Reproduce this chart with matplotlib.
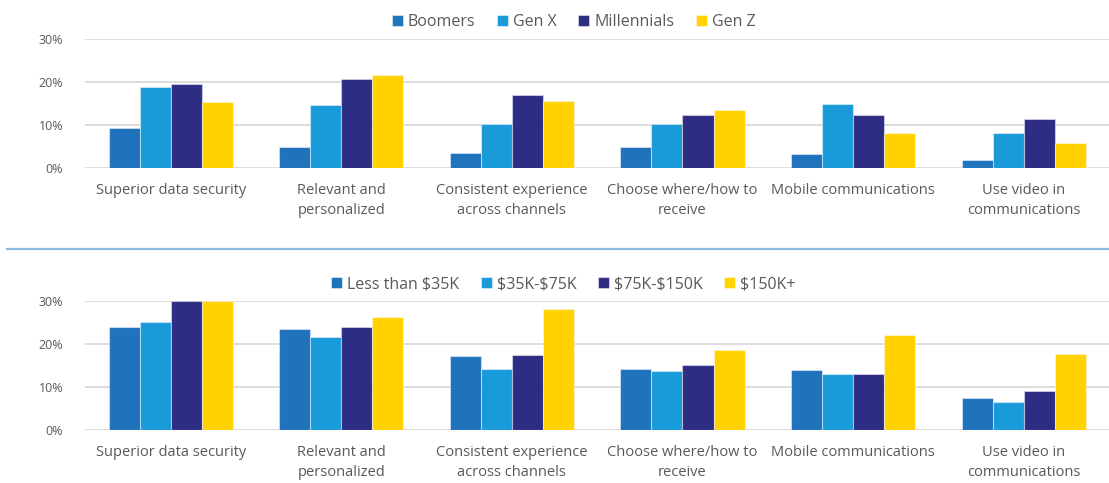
import matplotlib.pyplot as plt
import numpy as np

categories = ["Superior data security", "Relevant and\npersonalized",
              "Consistent experience\nacross channels", "Choose where/how to\nreceive",
              "Mobile communications", "Use video in\ncommunications"]

gen_labels = ["Boomers", "Gen X", "Millennials", "Gen Z"]
boomers = [9.3, 5.0, 3.6, 4.9, 3.2, 1.9]
gen_x = [18.8, 14.6, 10.3, 10.2, 14.8, 8.1]
millennials = [19.5, 20.7, 17.0, 12.3, 12.3, 11.4]
gen_z = [15.3, 21.6, 15.7, 13.6, 8.1, 5.9]

income_labels = ["Less than $35K", "$35K-$75K", "$75K-$150K", "$150K+"]
less_35k = [23.9, 23.5, 17.3, 14.2, 13.9, 7.3]
k35_75 = [25.2, 21.7, 14.1, 13.6, 12.9, 6.5]
k75_150 = [30.0, 23.9, 17.4, 15.1, 13.1, 9.0]
k150_plus = [30.0, 26.3, 28.1, 18.5, 22.0, 17.7]

colors = ["#1F72BC", "#1A9BD9", "#2E2D84", "#FFD200"]
text_color = "#595959"

plt.rcParams['font.family'] = ['Open Sans', 'DejaVu Sans']
plt.rcParams['text.parse_math'] = False


def draw_panel(ax, series, labels, legend_x, legend_y):
    x = np.arange(len(categories))
    w = 0.182
    for i, (vals, lab) in enumerate(zip(series, labels)):
        ax.bar(x + (i - 1.5) * w, vals, width=w, color=colors[i], label=lab,
               edgecolor=(1, 1, 1, 0.45), linewidth=0.8, zorder=3)
    ax.set_xlim(-0.5, len(categories) - 0.5)
    ax.set_ylim(0, 30)
    ax.set_yticks([0, 10, 20, 30])
    ax.set_yticklabels(["0%", "10%", "20%", "30%"], color=text_color, fontsize=9)
    ax.set_xticks(x)
    ax.set_xticklabels(categories, color=text_color, fontsize=10.5, linespacing=1.45)
    ax.tick_params(axis='both', length=0)
    ax.tick_params(axis='y', pad=16)
    ax.tick_params(axis='x', pad=11)
    ax.grid(axis='y', color="#D9D9D9", linewidth=1.3, zorder=0)
    for s in ax.spines.values():
        s.set_visible(False)
    ax.legend(loc='center', bbox_to_anchor=(legend_x, legend_y), ncol=4, frameon=False,
              fontsize=11.5, handlelength=0.7, handleheight=0.7, handletextpad=0.3,
              columnspacing=1.35, labelcolor=text_color)


fig = plt.figure(figsize=(11.09, 4.83), dpi=100)
ax1 = fig.add_axes([0.077, 0.652, 0.923, 0.267])
ax2 = fig.add_axes([0.077, 0.110, 0.923, 0.267])

draw_panel(ax1, [boomers, gen_x, millennials, gen_z], gen_labels, 0.477, 1.13)
draw_panel(ax2, [less_35k, k35_75, k75_150, k150_plus], income_labels, 0.467, 1.13)

fig.add_artist(plt.Line2D([0.006, 1.0], [1 - 249 / 483, 1 - 249 / 483],
                          color="#8DBBE2", linewidth=1.6))

fig.savefig("out.png", dpi=100)
